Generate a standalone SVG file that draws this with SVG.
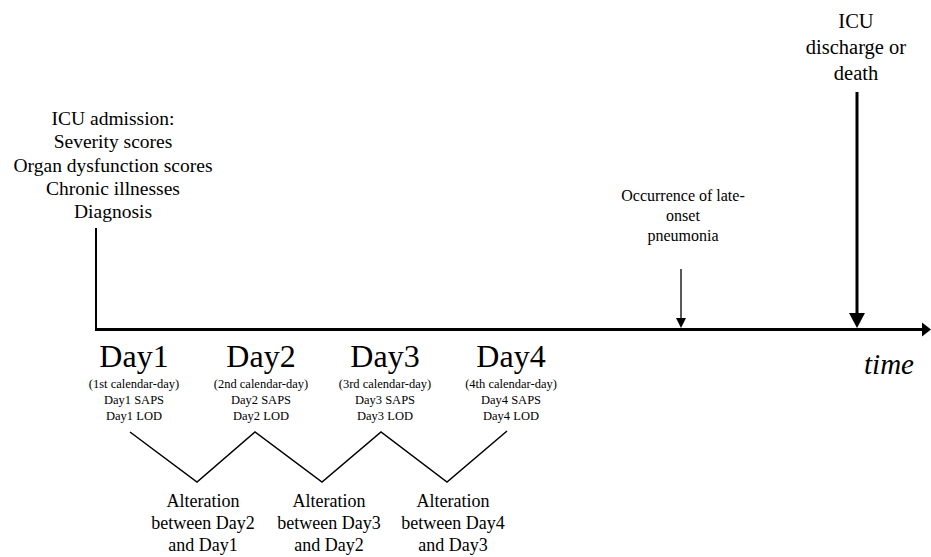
<svg xmlns="http://www.w3.org/2000/svg" width="931" height="557" viewBox="0 0 931 557">
<style>
text{font-family:"Liberation Serif","Times New Roman",serif;fill:#000;text-anchor:middle}
.lbl{font-size:19.5px}
.lbl2{font-size:20.5px}
.mid{font-size:16px}
.day{font-size:32px}
.sm{font-size:12.5px}
.alt{font-size:18px}
.time{font-size:29px;font-style:italic}
.ln{stroke:#000;fill:none}
</style>
<rect width="931" height="557" fill="#fff"/>
<g id="connectors">
  <line class="ln" x1="96" y1="228" x2="96" y2="330" stroke-width="2"/>
  <line class="ln" x1="95" y1="329.5" x2="924" y2="329.5" stroke-width="3"/>
  <polygon points="922,322.5 931,329.5 922,336.5" fill="#000"/>
  <line class="ln" x1="857" y1="92" x2="857" y2="315" stroke-width="3"/>
  <polygon points="849,313 865,313 857,328" fill="#000"/>
  <line class="ln" x1="681" y1="269" x2="681" y2="319" stroke-width="1.3"/>
  <polygon points="676,318 686,318 681,328" fill="#000"/>
  <polyline class="ln" points="130,432 197,482 255,432 322,482 381,432 447,482 507,431" stroke-width="1.5"/>
</g>
<g id="admission">
  <text class="lbl" x="113" y="125">ICU admission:</text>
  <text class="lbl" x="113" y="148">Severity scores</text>
  <text class="lbl" x="113" y="172">Organ dysfunction scores</text>
  <text class="lbl" x="113" y="195">Chronic illnesses</text>
  <text class="lbl" x="113" y="218">Diagnosis</text>
</g>
<g id="discharge">
  <text class="lbl2" x="856" y="28">ICU</text>
  <text class="lbl2" x="856" y="54">discharge or</text>
  <text class="lbl2" x="856" y="80">death</text>
</g>
<g id="pneumonia">
  <text class="mid" x="683" y="201">Occurrence of late-</text>
  <text class="mid" x="683" y="221">onset</text>
  <text class="mid" x="683" y="241">pneumonia</text>
</g>
<g id="time">
  <text class="time" x="889" y="374">time</text>
</g>
<g id="day1">
  <text class="day" x="134" y="367">Day1</text>
  <text class="sm" x="134" y="388">(1st calendar-day)</text>
  <text class="sm" x="134" y="404">Day1 SAPS</text>
  <text class="sm" x="134" y="420">Day1 LOD</text>
</g>
<g id="day2">
  <text class="day" x="261" y="367">Day2</text>
  <text class="sm" x="261" y="388">(2nd calendar-day)</text>
  <text class="sm" x="261" y="404">Day2 SAPS</text>
  <text class="sm" x="261" y="420">Day2 LOD</text>
</g>
<g id="day3">
  <text class="day" x="385" y="367">Day3</text>
  <text class="sm" x="385" y="388">(3rd calendar-day)</text>
  <text class="sm" x="385" y="404">Day3 SAPS</text>
  <text class="sm" x="385" y="420">Day3 LOD</text>
</g>
<g id="day4">
  <text class="day" x="511" y="367">Day4</text>
  <text class="sm" x="511" y="388">(4th calendar-day)</text>
  <text class="sm" x="511" y="404">Day4 SAPS</text>
  <text class="sm" x="511" y="420">Day4 LOD</text>
</g>
<g id="alt1">
  <text class="alt" x="203" y="507">Alteration</text>
  <text class="alt" x="203" y="529">between Day2</text>
  <text class="alt" x="203" y="551">and Day1</text>
</g>
<g id="alt2">
  <text class="alt" x="329" y="507">Alteration</text>
  <text class="alt" x="329" y="529">between Day3</text>
  <text class="alt" x="329" y="551">and Day2</text>
</g>
<g id="alt3">
  <text class="alt" x="453" y="507">Alteration</text>
  <text class="alt" x="453" y="529">between Day4</text>
  <text class="alt" x="453" y="551">and Day3</text>
</g>
</svg>
